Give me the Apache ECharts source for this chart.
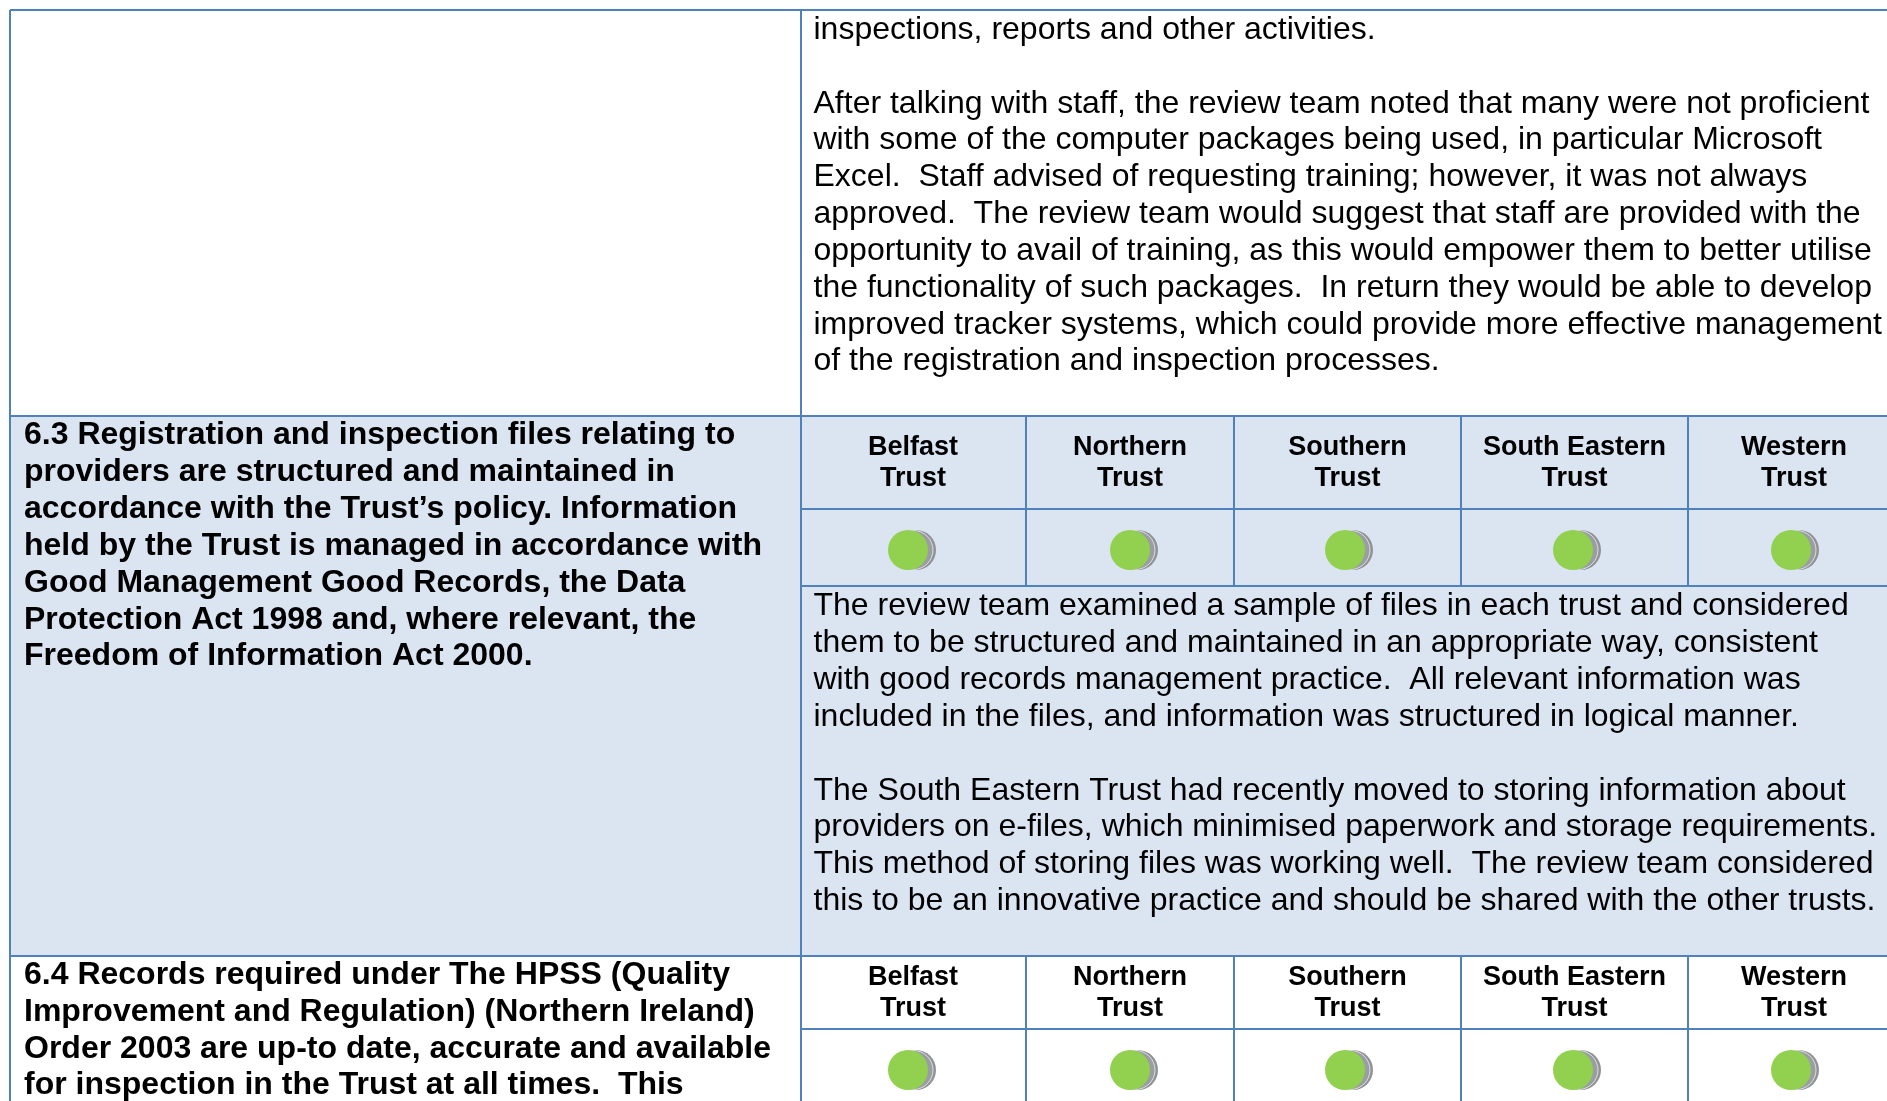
<!DOCTYPE html>
<html>
<head>
<meta charset="utf-8">
<title>Trust review table</title>
<style>
html, body { margin: 0; padding: 0; background: #fff; overflow: hidden; }
#main { width: 1887px; height: 1101px; }
</style>
<script src="https://cdn.jsdelivr.net/npm/echarts@6/dist/echarts.min.js"></script>
</head>
<body>
<div id="main"></div>
<script>
// table content
var trusts = [['Belfast', 'Trust'], ['Northern', 'Trust'], ['Southern', 'Trust'], ['South Eastern', 'Trust'], ['Western', 'Trust']];
var ratings63 = ['green', 'green', 'green', 'green', 'green'];
var ratings64 = ['green', 'green', 'green', 'green', 'green'];

var topLines = [
    'inspections, reports and other activities.',
    '',
    'After talking with staff, the review team noted that many were not proficient',
    'with some of the computer packages being used, in particular Microsoft',
    'Excel.  Staff advised of requesting training; however, it was not always',
    'approved.  The review team would suggest that staff are provided with the',
    'opportunity to avail of training, as this would empower them to better utilise',
    'the functionality of such packages.  In return they would be able to develop',
    'improved tracker systems, which could provide more effective management',
    'of the registration and inspection processes.'
];
var heading63 = [
    '6.3 Registration and inspection files relating to',
    'providers are structured and maintained in',
    'accordance with the Trust\u2019s policy. Information',
    'held by the Trust is managed in accordance with',
    'Good Management Good Records, the Data',
    'Protection Act 1998 and, where relevant, the',
    'Freedom of Information Act 2000.'
];
var body63 = [
    'The review team examined a sample of files in each trust and considered',
    'them to be structured and maintained in an appropriate way, consistent',
    'with good records management practice.  All relevant information was',
    'included in the files, and information was structured in logical manner.',
    '',
    'The South Eastern Trust had recently moved to storing information about',
    'providers on e-files, which minimised paperwork and storage requirements.',
    'This method of storing files was working well.  The review team considered',
    'this to be an innovative practice and should be shared with the other trusts.'
];
var heading64 = [
    '6.4 Records required under The HPSS (Quality',
    'Improvement and Regulation) (Northern Ireland)',
    'Order 2003 are up-to date, accurate and available',
    'for inspection in the Trust at all times.  This'
];

// layout
var W = 1887, H = 1101;
var BLUE = '#4f81bd', FILL = '#dbe5f1';
var leftX = 10, splitX = 801, topY = 10;
var colX = [801, 1026, 1234, 1461, 1688, 1897];
var dotX = [908, 1130, 1345, 1573, 1791];
var row63 = { top: 416, head: 509, dots: 586, bottom: 956, headY: 448, dotY: 550, bodyY: 606.5, titleY: 435.5 };
var row64 = { top: 956, head: 1029, headY: 978, dotY: 1070, titleY: 975 };
var lineGap = 36.85, bodyFont = 32;

var colors = { green: '#92d050' };
var graphics = [];

function rect(x, y, w, h) {
    graphics.push({ type: 'rect', silent: true, shape: { x: x, y: y, width: w, height: h }, style: { fill: FILL } });
}
function line(x1, y1, x2, y2) {
    graphics.push({ type: 'line', silent: true, z: 5, shape: { x1: x1, y1: y1, x2: x2, y2: y2 }, style: { stroke: BLUE, lineWidth: 2 } });
}
function text(str, x, y, font, bold, align) {
    if (!str) return;
    graphics.push({
        type: 'text', silent: true, z: 6, x: x, y: y,
        style: {
            text: str, fill: '#000', textAlign: align || 'left', textVerticalAlign: 'middle',
            font: (bold ? 'bold ' : '') + font + 'px "Liberation Sans", Arial, sans-serif'
        }
    });
}
function block(lines, x, y, font, bold) {
    lines.forEach(function (s, i) { text(s, x, y + i * lineGap, font, bold); });
}

rect(leftX, row63.top, W - leftX, row63.bottom - row63.top);

// rules
line(leftX, topY, W, topY);
line(leftX, row63.top, W, row63.top);
line(leftX, row63.bottom, W, row63.bottom);
line(leftX, topY, leftX, H);
line(splitX, topY, splitX, H);
[row63.head, row63.dots].forEach(function (y) { line(splitX, y, W, y); });
line(splitX, row64.head, W, row64.head);
colX.slice(1, 5).forEach(function (x) {
    line(x, row63.top, x, row63.dots);
    line(x, row64.top, x, H);
});

// text
block(topLines, 813.5, 30, bodyFont, false);
block(heading63, 24, row63.titleY, bodyFont, true);
block(body63, 813.5, row63.bodyY, bodyFont, false);
block(heading64, 24, row64.titleY, bodyFont, true);
trusts.forEach(function (t, i) {
    var cx = (colX[i] + Math.min(colX[i + 1], W)) / 2;
    if (i === 0) cx = 913;
    if (i === 4) cx = 1794;
    text(t[0], cx, row63.headY, 27, true, 'center');
    text(t[1], cx, row63.headY + 31, 27, true, 'center');
    text(t[0], cx, row64.headY, 27, true, 'center');
    text(t[1], cx, row64.headY + 31, 27, true, 'center');
});

// rating dots, built from the rating lists
function dotData(offset) {
    var out = [];
    ratings63.forEach(function (r, i) { out.push({ value: [dotX[i] + offset, row63.dotY], rating: r }); });
    ratings64.forEach(function (r, i) { out.push({ value: [dotX[i] + offset, row64.dotY], rating: r }); });
    return out;
}

var chart = echarts.init(document.getElementById('main'), null, { renderer: 'canvas' });
chart.setOption({
    animation: false,
    backgroundColor: '#fff',
    grid: { left: 0, right: 0, top: 0, bottom: 0 },
    xAxis: { type: 'value', min: 0, max: W, show: false },
    yAxis: { type: 'value', min: 0, max: H, inverse: true, show: false },
    graphic: { elements: graphics },
    series: [
        { type: 'scatter', z: 10, symbolSize: 40, data: dotData(8), itemStyle: { color: '#8f9297', opacity: 1 } },
        { type: 'scatter', z: 11, symbolSize: 39, data: dotData(5.5), itemStyle: { color: '#9a9da1', borderColor: '#f0f0f0', borderWidth: 0.8, opacity: 1 } },
        {
            type: 'scatter', z: 12, symbolSize: 40, data: dotData(0),
            itemStyle: { opacity: 1, color: function (p) { return colors[p.data.rating]; } }
        }
    ]
});
</script>
</body>
</html>
